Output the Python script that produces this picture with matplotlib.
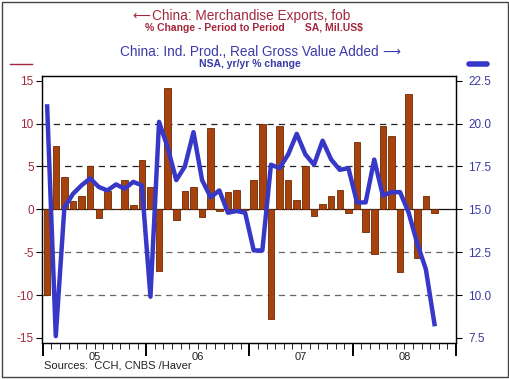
import matplotlib
matplotlib.use("Agg")
import matplotlib.pyplot as plt
import numpy as np
from matplotlib.patches import Rectangle
from matplotlib.lines import Line2D

plt.rcParams['font.family'] = ['Liberation Sans', 'DejaVu Sans']

# Monthly data Jan 2005 - Oct 2008
exports = [-10.0, 7.4, 3.8, 1.0, 1.5, 5.0, -1.0, 2.1, 0.05, 3.4, 0.5, 5.7,
           2.6, -7.2, 14.1, -1.3, 2.1, 2.6, -0.9, 9.5, -0.2, 2.0, 2.2, -0.1,
           3.4, 9.9, -12.8, 9.7, 3.4, 1.1, 5.0, -0.8, 0.6, 1.5, 2.2, -0.4,
           7.8, -2.7, -5.2, 9.7, 8.6, -7.3, 13.4, -5.7, 1.5, -0.4]
indprod = [21.0, 7.6, 15.1, 15.9, 16.4, 16.8, 16.3, 16.1, 16.45, 16.2, 16.6, 16.4,
           9.9, 20.1, 18.6, 16.7, 17.5, 19.5, 16.7, 15.7, 16.1, 14.8, 14.9, 14.8,
           12.6, 12.6, 17.6, 17.4, 18.2, 19.4, 18.2, 17.6, 19.0, 17.9, 17.3, 17.4,
           15.4, 15.4, 17.9, 15.8, 16.0, 16.0, 14.8, 13.0, 11.5, 8.3]
year_labels = ["05", "06", "07", "08"]
left_ticks = [15, 10, 5, 0, -5, -10, -15]
right_ticks = [22.5, 20.0, 17.5, 15.0, 12.5, 10.0, 7.5]

red = "#a3283c"
blue = "#3838c8"
title_blue = "#3a3aa8"
bar_col = "#a8420c"
bar_edge = "#6e2a06"

W, H = 510, 379
fig = plt.figure(figsize=(W / 100, H / 100), dpi=100)
ax = fig.add_axes([42 / W, (H - 343) / H, (456 - 42) / W, (343 - 76) / H])

x = np.arange(len(exports)) + 0.5
ax.bar(x, exports, width=0.76, color=bar_col, edgecolor=bar_edge, linewidth=0.6, zorder=3)
ax.set_xlim(-0.1, 48)
ylo, yhi = -15.6, 15.55
ax.set_ylim(ylo, yhi)

# grid lines
for v in [10, 5]:
    ax.axhline(v, color="#222222", linestyle=(0, (5, 4)), linewidth=0.9, zorder=1)
for v in [-5, -10]:
    ax.axhline(v, color="#666666", linestyle=(0, (5, 4)), linewidth=0.9, zorder=1)
ax.axhline(0, color="#111111", linewidth=0.9, zorder=2)

ax.set_yticks(left_ticks)
ax.set_yticklabels([str(t) for t in left_ticks], color=red, fontsize=8.5)
ax.tick_params(axis="y", direction="out", length=4, width=0.8, pad=2)

# x ticks: major at year boundaries, minor monthly
ax.set_xticks([0, 12, 24, 36, 48])
ax.set_xticklabels([""] * 5)
ax.set_xticks(np.arange(0, 49), minor=True)
ax.tick_params(axis="x", which="major", direction="out", length=9, width=1.4)
ax.tick_params(axis="x", which="minor", direction="out", length=4, width=0.6)
for i, lab in enumerate(year_labels):
    ax.text(6 + 12 * i, -0.035, lab, transform=ax.get_xaxis_transform(),
            ha="center", va="top", fontsize=8, color="#222222")

for s in ax.spines.values():
    s.set_linewidth(1.0)
    s.set_color("#222222")

ax2 = ax.twinx()
ax2.plot(x, indprod, color=blue, linewidth=3.2, zorder=5, solid_joinstyle="round")
ax2.set_ylim(15 + ylo / 2, 15 + yhi / 2)
ax2.set_yticks(right_ticks)
ax2.set_yticklabels([f"{t:.1f}" for t in right_ticks], color="#3a3aa0", fontsize=8.5)
ax2.tick_params(axis="y", direction="out", length=4, width=0.8, pad=5)

# Titles
fig.text(150 / W, 1 - 16 / H, "\u27f5", color=red, family="DejaVu Sans",
         fontsize=9, ha="right", va="center")
fig.text(152 / W, 1 - 16 / H, "China: Merchandise Exports, fob", color=red,
         fontsize=9.8, ha="left", va="center")
fig.text(254 / W, 1 - 28 / H, "% Change - Period to Period       SA, Mil.US$", color=red,
         fontsize=7.5, fontweight="bold", ha="center", va="center")
fig.text(120 / W, 1 - 52 / H, "China: Ind. Prod., Real Gross Value Added", color=title_blue,
         fontsize=9.8, ha="left", va="center")
fig.text(382 / W, 1 - 52 / H, "\u27f6", color=title_blue, family="DejaVu Sans",
         fontsize=9, ha="left", va="center")
fig.text(250 / W, 1 - 64 / H, "NSA, yr/yr % change", color=title_blue,
         fontsize=7.5, fontweight="bold", ha="center", va="center")
fig.text(44 / W, 1 - 366 / H, "Sources:  CCH, CNBS /Haver", color="#222222",
         fontsize=8, ha="left", va="center")

# legend keys
fig.add_artist(Line2D([10 / W, 32 / W], [1 - 64 / H, 1 - 64 / H], color=red, linewidth=1.0))
fig.add_artist(Line2D([469 / W, 487 / W], [1 - 64 / H, 1 - 64 / H], color=blue,
                      linewidth=4.0, solid_capstyle="round"))

# outer frame
fig.add_artist(Rectangle((2.5 / W, 2 / H), (508 - 2.5) / W, (377 - 2) / H,
                         transform=fig.transFigure, fill=False, edgecolor="#444444", linewidth=1.0))

fig.savefig("out.png", dpi=100)
